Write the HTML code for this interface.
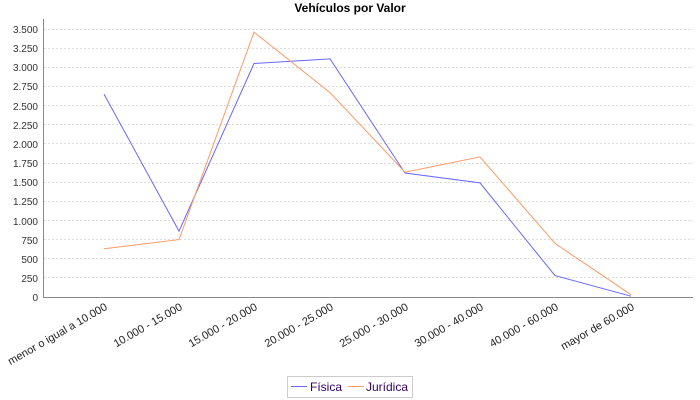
<!DOCTYPE html>
<html><head><meta charset="utf-8"><style>
body{margin:0;background:#fff;}
svg{display:block;font-family:"Liberation Sans",sans-serif;}
</style></head><body>
<svg width="700" height="400" viewBox="0 0 700 400">
<text x="350" y="12" text-anchor="middle" font-size="12" font-weight="bold">Vehículos por Valor</text>
<g stroke="#dcdcdc" stroke-dasharray="2,2" stroke-width="1">
<line x1="44" x2="693" y1="277.5" y2="277.5"/>
<line x1="44" x2="693" y1="258.5" y2="258.5"/>
<line x1="44" x2="693" y1="239.5" y2="239.5"/>
<line x1="44" x2="693" y1="220.5" y2="220.5"/>
<line x1="44" x2="693" y1="201.5" y2="201.5"/>
<line x1="44" x2="693" y1="182.5" y2="182.5"/>
<line x1="44" x2="693" y1="163.5" y2="163.5"/>
<line x1="44" x2="693" y1="143.5" y2="143.5"/>
<line x1="44" x2="693" y1="124.5" y2="124.5"/>
<line x1="44" x2="693" y1="105.5" y2="105.5"/>
<line x1="44" x2="693" y1="86.5" y2="86.5"/>
<line x1="44" x2="693" y1="67.5" y2="67.5"/>
<line x1="44" x2="693" y1="48.5" y2="48.5"/>
<line x1="44" x2="693" y1="29.5" y2="29.5"/>
</g>
<g stroke="#888" stroke-width="1">
<line x1="43.5" y1="19" x2="43.5" y2="297"/>
<line x1="43" y1="297.5" x2="693" y2="297.5"/>
</g>
<g font-size="10" text-anchor="end" fill="#333">
<text x="38" y="301">0</text><text x="38" y="282">250</text><text x="38" y="263">500</text><text x="38" y="244">750</text>
<text x="38" y="225">1.000</text><text x="38" y="205">1.250</text><text x="38" y="186">1.500</text><text x="38" y="167">1.750</text>
<text x="38" y="148">2.000</text><text x="38" y="129">2.250</text><text x="38" y="110">2.500</text><text x="38" y="90">2.750</text>
<text x="38" y="71">3.000</text><text x="38" y="52">3.250</text><text x="38" y="33">3.500</text>
</g>
<g font-size="11" text-anchor="end" fill="#222">
<text transform="translate(108,309) rotate(-30)">menor o igual a 10.000</text>
<text transform="translate(183,309) rotate(-30)">10.000 - 15.000</text>
<text transform="translate(258,309) rotate(-30)">15.000 - 20.000</text>
<text transform="translate(334,309) rotate(-30)">20.000 - 25.000</text>
<text transform="translate(409,309) rotate(-30)">25.000 - 30.000</text>
<text transform="translate(484,309) rotate(-30)">30.000 - 40.000</text>
<text transform="translate(559,309) rotate(-30)">40.000 - 60.000</text>
<text transform="translate(635,309) rotate(-30)">mayor de 60.000</text>
</g>
<polyline fill="none" stroke="#6666ff" stroke-width="1" points="104,94.1 179,231.1 254,63.5 330,58.9 405,173 480,182.9 555,275.6 631,296.2"/>
<polyline fill="none" stroke="#ff9966" stroke-width="1" points="104,248.8 179,239.6 254,32.1 330,92.6 405,172.2 480,156.9 555,243.4 631,294.7"/>
<rect x="287.5" y="376.5" width="125" height="21" fill="#fff" stroke="#ccc"/>
<line x1="291" x2="307" y1="386.5" y2="386.5" stroke="#6666ff"/>
<text x="310" y="391" font-size="12" fill="#330066">Física</text>
<line x1="348" x2="364" y1="386.5" y2="386.5" stroke="#ff9966"/>
<text x="366" y="391" font-size="12" fill="#330066">Jurídica</text>
</svg>
</body></html>
